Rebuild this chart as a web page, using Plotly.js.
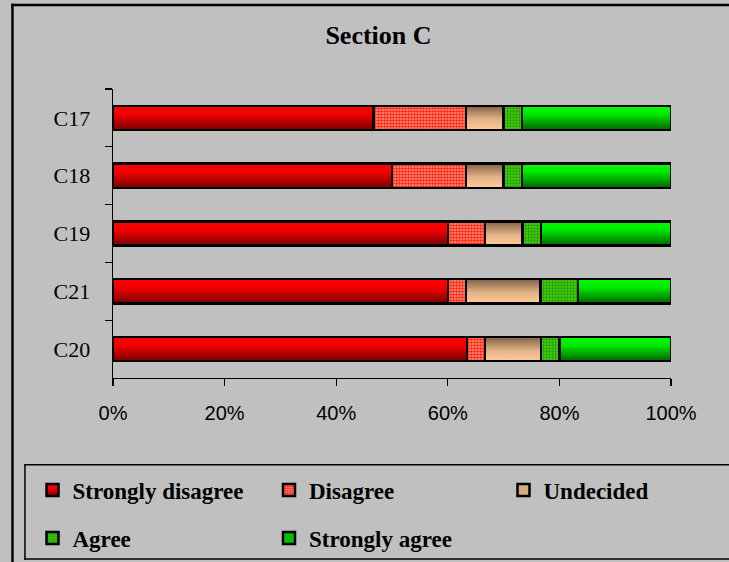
<!DOCTYPE html>
<html>
<head>
<meta charset="utf-8">
<script src="https://cdn.plot.ly/plotly-3.0.1.min.js"></script>
<style>
  html, body { margin: 0; padding: 0; background: #C0C0C0; overflow: hidden; }
  #chart { width: 729px; height: 562px; }
</style>
</head>
<body>
<div id="chart"></div>
<script>
// ---- Data (percent of respondents), categories listed top to bottom ----
var categories = ['C17', 'C18', 'C19', 'C21', 'C20'];
var seriesNames = ['Strongly disagree', 'Disagree', 'Undecided', 'Agree', 'Strongly agree'];
var stronglyDisagree = [46.7, 50.0, 60.0, 60.0, 63.4];
var disagree         = [16.6, 13.3, 6.7, 3.3, 3.3];
var undecided        = [6.7, 6.7, 6.7, 13.3, 10.0];
var agree            = [3.3, 3.3, 3.3, 6.7, 3.3];
var stronglyAgree    = [26.7, 26.7, 23.3, 16.7, 20.0];
var xTickVals  = [0, 20, 40, 60, 80, 100];
var xTickText  = ['0%', '20%', '40%', '60%', '80%', '100%'];

// ---- plot geometry helpers (pixel -> paper / container) ----
var L = 112.6, R = 671, T = 89, B = 377.7;
var W = 729, H = 562;
function px(x) { return (x - L) / (R - L); }
function py(y) { return (B - y) / (B - T); }
function cx(x) { return x / W; }
function cy(y) { return 1 - y / H; }

var lineStyle = { color: '#000000', width: 2.5 };

function barTrace(name, vals, color, legendId, pattern) {
  var m = { color: color, line: lineStyle };
  if (pattern) m.pattern = pattern;
  return {
    type: 'bar', orientation: 'h', name: name,
    y: categories, x: vals, marker: m, legend: legendId,
    hoverinfo: 'x+y+name'
  };
}

var data = [
  barTrace(seriesNames[0], stronglyDisagree, '#C00000', 'legend'),
  barTrace(seriesNames[1], disagree, '#FF9070', 'legend',
           { shape: '.', bgcolor: '#FF9A80', fgcolor: '#FF2010', size: 3, solidity: 0.55 }),
  barTrace(seriesNames[2], undecided, '#D8AA80', 'legend2'),
  barTrace(seriesNames[3], agree, '#33CC00', 'legend3',
           { shape: '.', bgcolor: '#44D010', fgcolor: '#229900', size: 3, solidity: 0.45 }),
  barTrace(seriesNames[4], stronglyAgree, '#00C000', 'legend3')
];

var legendFont = { family: 'Liberation Serif, Times New Roman, serif', size: 23, color: '#000000', weight: 'bold' };

function legendBox(symbolX, rowCenter, entryW) {
  return {
    orientation: 'h', xref: 'container', yref: 'container',
    x: cx(symbolX - 20.5), xanchor: 'left', y: cy(rowCenter - 21.5), yanchor: 'top',
    bgcolor: 'rgba(0,0,0,0)', borderwidth: 0, font: legendFont,
    entrywidth: entryW, entrywidthmode: 'pixels', itemwidth: 30, traceorder: 'normal'
  };
}

function hLine(x0, x1, y, w) {
  return { type: 'line', xref: 'paper', yref: 'paper', layer: 'below',
           x0: px(x0), x1: px(x1), y0: py(y), y1: py(y), line: { color: '#000000', width: w } };
}
function vLine(x, y0, y1, w) {
  return { type: 'line', xref: 'paper', yref: 'paper', layer: 'below',
           x0: px(x), x1: px(x), y0: py(y0), y1: py(y1), line: { color: '#000000', width: w } };
}

var layout = {
  width: W, height: H,
  paper_bgcolor: '#C0C0C0',
  plot_bgcolor: '#C0C0C0',
  margin: { l: L, r: W - R, t: T, b: H - B, pad: 0 },
  barmode: 'stack',
  bargap: 0.58,
  showlegend: true,
  title: {
    text: 'Section C',
    font: { family: 'Liberation Serif, Times New Roman, serif', size: 26, color: '#000000', weight: 'bold' },
    x: 378.5 / W, xanchor: 'center', xref: 'container',
    y: 1 - 35 / H, yanchor: 'middle', yref: 'container'
  },
  xaxis: {
    range: [0, 100], fixedrange: true,
    tickmode: 'array', tickvals: xTickVals, ticktext: xTickText,
    ticks: 'outside', ticklen: 7, tickwidth: 1.3, tickcolor: '#000000',
    showline: true, linecolor: '#000000', linewidth: 1.3,
    showgrid: false, zeroline: false,
    ticklabelstandoff: 10,
    tickfont: { family: 'Liberation Sans, Arial, sans-serif', size: 20, color: '#000000' }
  },
  yaxis: {
    type: 'category', categoryorder: 'array', categoryarray: categories,
    autorange: 'reversed', fixedrange: true,
    tickson: 'boundaries',
    ticks: 'outside', ticklen: 7, tickwidth: 1.3, tickcolor: '#000000',
    showline: true, linecolor: '#000000', linewidth: 1.3,
    showgrid: false, zeroline: false,
    ticklabelstandoff: 17,
    tickfont: { family: 'Liberation Serif, Times New Roman, serif', size: 22, color: '#000000' }
  },
  legend: legendBox(53, 490, 191.5),
  legend2: legendBox(524, 490, 0),
  legend3: legendBox(53, 538, 191.5),
  shapes: [
    // outer chart frame (continues beyond the right and bottom edges)
    hLine(10.8, 760, 5, 2.5),
    vLine(12, 3.8, 600, 2.5),
    // legend frame
    hLine(23.8, 760, 464.3, 1.5),
    hLine(23.8, 760, 558.5, 1.5),
    vLine(24.5, 463.6, 559.2, 1.5)
  ]
};

var gradients = {
  0: [['0', '#FF0000'], ['0.35', '#F20000'], ['1', '#780000']],
  2: [['0', '#7E6046'], ['0.55', '#E2B286'], ['1', '#FFCC99']],
  4: [['0', '#00FF00'], ['0.35', '#00E800'], ['1', '#006400']]
};

function applyGradients(gd) {
  var svg = gd.querySelector('svg.main-svg');
  if (!svg) return;
  var ns = 'http://www.w3.org/2000/svg';
  var defs = svg.querySelector('defs');
  if (!defs) { defs = document.createElementNS(ns, 'defs'); svg.insertBefore(defs, svg.firstChild); }
  Object.keys(gradients).forEach(function (k) {
    var id = 'grad-trace-' + k;
    if (svg.querySelector('#' + id)) return;
    var g = document.createElementNS(ns, 'linearGradient');
    g.setAttribute('id', id);
    g.setAttribute('x1', '0'); g.setAttribute('y1', '0');
    g.setAttribute('x2', '0'); g.setAttribute('y2', '1');
    gradients[k].forEach(function (s) {
      var st = document.createElementNS(ns, 'stop');
      st.setAttribute('offset', s[0]);
      st.setAttribute('stop-color', s[1]);
      g.appendChild(st);
    });
    defs.appendChild(g);
  });
  gd.querySelectorAll('.barlayer .trace.bars').forEach(function (el) {
    var d = el.__data__;
    var idx = d && d[0] && d[0].trace ? d[0].trace.index : null;
    if (idx !== null && gradients[idx]) {
      el.querySelectorAll('path').forEach(function (p) { p.style.fill = 'url(#grad-trace-' + idx + ')'; });
    }
  });
  gd.querySelectorAll('.legend .traces').forEach(function (el) {
    var d = el.__data__;
    var idx = d && d[0] && d[0].trace ? d[0].trace.index : null;
    if (idx !== null && gradients[idx]) {
      el.querySelectorAll('.legendpoints path').forEach(function (p) { p.style.fill = 'url(#grad-trace-' + idx + ')'; });
    }
  });
}

Plotly.newPlot('chart', data, layout, { displayModeBar: false, staticPlot: true }).then(function (gd) {
  applyGradients(gd);
  gd.on('plotly_afterplot', function () { applyGradients(gd); });
});
</script>
</body>
</html>
